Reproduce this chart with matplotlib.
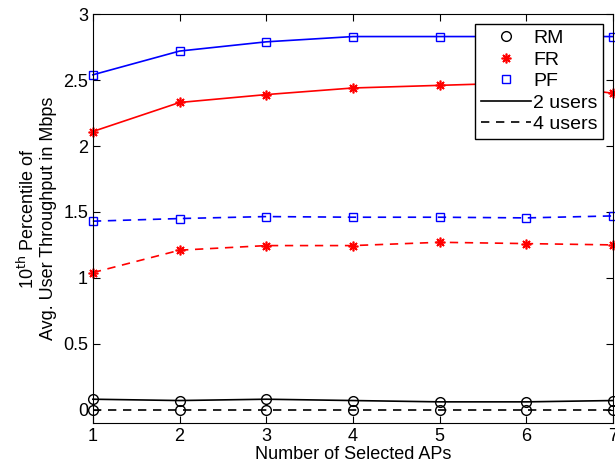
import numpy as np
import matplotlib.pyplot as plt
from matplotlib.lines import Line2D

plt.rcParams["font.family"] = ["Liberation Sans", "DejaVu Sans"]

aps = [1, 2, 3, 4, 5, 6, 7]

rm_2 = [0.08, 0.07, 0.08, 0.07, 0.06, 0.06, 0.07]
fr_2 = [2.11, 2.33, 2.39, 2.44, 2.46, 2.48, 2.40]
pf_2 = [2.54, 2.72, 2.79, 2.83, 2.83, 2.83, 2.83]

rm_4 = [0.0, 0.0, 0.0, 0.0, 0.0, 0.0, 0.0]
fr_4 = [1.04, 1.21, 1.245, 1.245, 1.27, 1.26, 1.25]
pf_4 = [1.43, 1.45, 1.465, 1.46, 1.46, 1.455, 1.47]

dash = (0, (5, 4))
star = (8, 2, 0)

fig = plt.figure(figsize=(6.15, 4.71), dpi=100)
ax = fig.add_axes([0.151, 0.102, 0.846, 0.868])

ax.plot(aps, rm_2, "k-", marker="o", mfc="none", ms=7, lw=1.2, clip_on=False)
ax.plot(aps, fr_2, "r-", marker=star, ms=7, mew=1.2, lw=1.2, clip_on=False)
ax.plot(aps, pf_2, "b-", marker="s", mfc="none", ms=6, lw=1.2, clip_on=False)
ax.plot(aps, rm_4, color="k", ls=dash, marker="o", mfc="none", ms=7, lw=1.2, clip_on=False)
ax.plot(aps, fr_4, color="r", ls=dash, marker=star, ms=7, mew=1.2, lw=1.2, clip_on=False)
ax.plot(aps, pf_4, color="b", ls=dash, marker="s", mfc="none", ms=6, lw=1.2, clip_on=False)

ax.set_xlim(1, 7)
ax.set_ylim(-0.1, 3)
ax.set_xticks(aps)
ax.set_yticks([0, 0.5, 1, 1.5, 2, 2.5, 3])
ax.set_yticklabels(["0", "0.5", "1", "1.5", "2", "2.5", "3"])
ax.tick_params(direction="in", top=True, right=True, labelsize=13, length=5)
ax.set_xlabel("Number of Selected APs", fontsize=13, labelpad=1)
ax.set_ylabel("10$^{\\mathrm{th}}$ Percentile of\nAvg. User Throughput in Mbps", fontsize=13)

handles = [
    Line2D([], [], ls="none", marker="o", mfc="none", color="k", ms=7),
    Line2D([], [], ls="none", marker=star, color="r", ms=7, mew=1.2),
    Line2D([], [], ls="none", marker="s", mfc="none", color="b", ms=6),
    Line2D([], [], ls="-", color="k", lw=1.2),
    Line2D([], [], ls=dash, color="k", lw=1.2),
]
labels = ["RM", "FR", "PF", "2 users", "4 users"]
leg = ax.legend(handles, labels, loc="upper right", fontsize=14, fancybox=False,
                edgecolor="k", framealpha=1, handlelength=2.6, handletextpad=0.1,
                borderaxespad=0.5, borderpad=0.3, labelspacing=0.2)
leg.get_frame().set_linewidth(1.0)

plt.savefig("out.png", dpi=100)
